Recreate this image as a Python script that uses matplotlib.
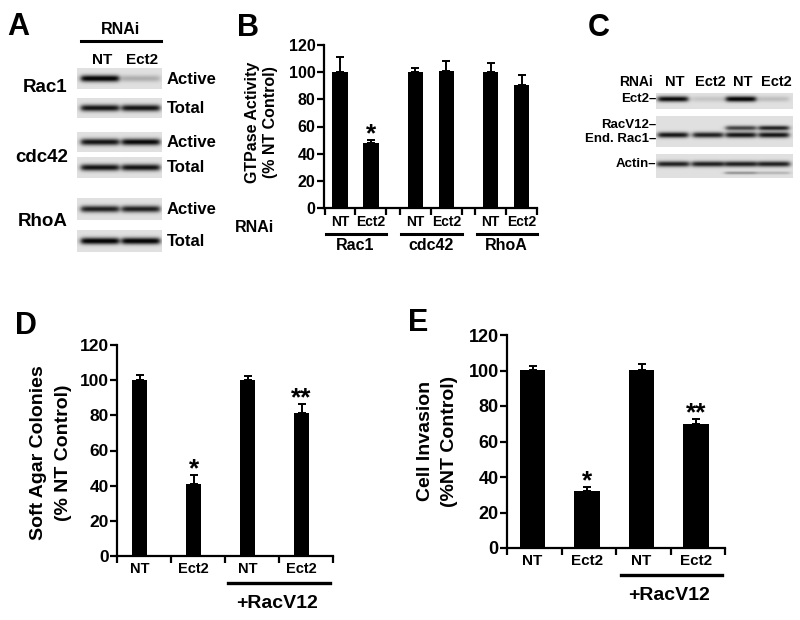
import numpy as np
import matplotlib
matplotlib.use("Agg")
import matplotlib.pyplot as plt
from matplotlib.transforms import blended_transform_factory

plt.rcParams['font.family'] = ['Liberation Sans', 'DejaVu Sans']
plt.rcParams['font.weight'] = 'bold'

W, H = 800, 620

#####################################
# Data
#####################################

# panel B: GTPase activity
b_groups = ["Rac1", "cdc42", "RhoA"]
b_lanes = ["NT", "Ect2"]
b_values = [100, 48, 100, 101, 100, 90.5]
b_errors = [11, 2, 3, 7, 7, 7.5]
b_stars = ["", "*", "", "", "", ""]

# panel D: soft agar colonies
d_labels = ["NT", "Ect2", "NT", "Ect2"]
d_values = [100, 41, 100, 81.5]
d_errors = [3, 5, 2.5, 5]
d_stars = ["", "*", "", "**"]

# panel E: cell invasion
e_labels = ["NT", "Ect2", "NT", "Ect2"]
e_values = [100.3, 32, 100.5, 70]
e_errors = [2, 2.2, 3, 2.6]
e_stars = ["", "*", "", "**"]

# panel A blot band intensities, lanes [NT, Ect2]
a_proteins = ["Rac1", "cdc42", "RhoA"]
a_active = [[1.0, 0.22], [0.9, 0.95], [0.85, 0.85]]
a_total = [[0.9, 0.9], [0.9, 0.9], [1.0, 1.0]]

# panel C blot band intensities, lanes NT, Ect2, NT, Ect2
c_lanes = ["NT", "Ect2", "NT", "Ect2"]
c_ect2 = [0.95, 0.12, 1.0, 0.15]
c_racv12 = [0.0, 0.0, 0.7, 0.85]
c_endrac1 = [0.9, 0.85, 0.9, 0.9]
c_actin = [0.85, 0.85, 0.85, 0.85]
c_actin_low = [0.0, 0.0, 0.35, 0.2]

#####################################
# Helpers
#####################################

fig = plt.figure(figsize=(W / 100, H / 100), dpi=100)
ov = fig.add_axes([0, 0, 1, 1])
ov.axis('off')


def px_axes(l, t, r, b):
    return fig.add_axes([l / W, 1 - b / H, (r - l) / W, (b - t) / H])


def blot(x0, x1, y0, y1, lane_x, half_w, bands):
    # bands: (y centre, thickness, per-lane intensities)
    xs = np.linspace(x0, x1, int((x1 - x0) * 4))
    ys = np.linspace(y0, y1, int((y1 - y0) * 4))
    img = np.full((len(ys), len(xs)), 0.88)
    for yc, sig, amps in bands:
        gy = np.exp(-0.5 * ((ys - yc) / sig) ** 2)
        for xc, a in zip(lane_x, amps):
            gx = 1 / (1 + np.exp((np.abs(xs - xc) - half_w) / 1.5))
            img -= a * 0.9 * np.outer(gy, gx)
    img = np.clip(img, 0.03, 1)
    ov.imshow(img, cmap='gray', vmin=0, vmax=1, extent=(x0, x1, y1, y0),
              aspect='auto', interpolation='bilinear')


def style(ax, fs):
    for s in ['top', 'right']:
        ax.spines[s].set_visible(False)
    for s in ['left', 'bottom']:
        ax.spines[s].set_linewidth(1.6)
    ax.set_facecolor('none')
    ax.set_ylim(0, 120)
    ax.set_yticks(range(0, 121, 20))
    ax.tick_params(axis='y', direction='out', length=5, width=1.6, labelsize=fs, pad=1)
    ax.tick_params(axis='x', which='major', direction='out', length=5, width=1.6)
    ax.tick_params(axis='x', which='minor', length=0, pad=3)


def bars(ax, x, vals, errs, width, stars, star_off):
    ax.bar(x, vals, width, color='black', zorder=2)
    ax.errorbar(x, vals, yerr=[np.zeros(len(vals)), errs], fmt='none', ecolor='black',
                elinewidth=1.4, capsize=3, capthick=1.4, zorder=3)
    for xi, v, e, s in zip(x, vals, errs, stars):
        if s:
            ax.annotate(s, (xi, v + e), xytext=(0, star_off), textcoords='offset points',
                        ha='center', va='baseline', fontsize=19)


def ytxt(ax, b, t, ypx):
    return (b - ypx) / (b - t)


#####################################
# Panel A
#####################################

ov.text(7, 27, "A", fontsize=22, va='center', ha='left')
ov.text(120, 30, "RNAi", fontsize=11.5, ha='center', va='center')
ov.plot([81, 161], [41, 41], color='black', lw=2.2)
ov.text(102, 60, "NT", fontsize=11, ha='center', va='center')
ov.text(142, 60, "Ect2", fontsize=11, ha='center', va='center')

a_rows = [(68, 89), (98, 118), (132, 152), (157, 178), (198, 220), (230, 252)]
a_name_y = [88, 157, 222]
a_name_x = [23, 15, 18]
a_lane_x = [100, 141]
for i, prot in enumerate(a_proteins):
    for j, (kind, amps) in enumerate([("Active", a_active[i]), ("Total", a_total[i])]):
        y0, y1 = a_rows[2 * i + j]
        yc = (y0 + y1) / 2
        blot(77, 162, y0, y1, a_lane_x, 19, [(yc, 2.4, amps)])
        ov.text(167, yc + 0.5, kind, fontsize=12, ha='left', va='center')
    ov.text(a_name_x[i], a_name_y[i], prot, fontsize=13.5, ha='left', va='center')

#####################################
# Panel C
#####################################

ov.text(588, 28, "C", fontsize=22, va='center', ha='left')
ov.text(653, 82, "RNAi", fontsize=10, ha='right', va='center')
c_lane_x = [673, 708, 741, 774]
for xc, lab in zip(c_lane_x, c_lanes):
    ov.text(xc + 2, 82, lab, fontsize=10.5, ha='center', va='center')
blot(656, 793, 93, 109, c_lane_x, 15, [(99, 2.0, c_ect2)])
blot(656, 793, 116, 147, c_lane_x, 15, [(128, 1.7, c_racv12), (135, 2.0, c_endrac1)])
blot(656, 793, 154, 178, c_lane_x, 16, [(164, 2.0, c_actin), (173, 1.0, c_actin_low)])
for lab, yc in [("Ect2\u2013", 99), ("RacV12\u2013", 125.5), ("End. Rac1\u2013", 138.5),
                ("Actin\u2013", 164)]:
    ov.text(656, yc, lab, fontsize=9.5, ha='right', va='center')

#####################################
# Panel B
#####################################

ov.text(237, 28, "B", fontsize=22, va='center', ha='left')
bl, bt, br, bb = 324, 45, 537, 208
axb = px_axes(bl, bt, br, bb)
style(axb, 11.5)
gap = 2.44
b_pos = [g * gap + k for g in range(len(b_groups)) for k in range(len(b_lanes))]
b_bounds = [g * gap + o for g in range(len(b_groups)) for o in (-0.5, 0.5, 1.5)]
bars(axb, b_pos, b_values, b_errors, 0.5, b_stars, -1)
axb.set_xlim(-0.52, (len(b_groups) - 1) * gap + 1.5)
axb.set_xticks(b_bounds, [""] * len(b_bounds))
axb.set_xticks(b_pos, b_lanes * len(b_groups), minor=True)
axb.tick_params(axis='x', which='minor', labelsize=10, pad=5)
trb = blended_transform_factory(axb.transData, axb.transAxes)
for g, name in enumerate(b_groups):
    axb.plot([g * gap - 0.45, g * gap + 1.5], [ytxt(axb, bb, bt, 233.5)] * 2, color='black',
             lw=2.2, transform=trb, clip_on=False)
    axb.text(g * gap + 0.5, ytxt(axb, bb, bt, 246), name, transform=trb, ha='center',
             va='center', fontsize=11.5)
ov.text(255, 227, "RNAi", fontsize=11.5, ha='center', va='center')
ov.text(253, 122, "GTPase Activity", fontsize=11.5, rotation=90, ha='center', va='center')
ov.text(270, 122, "(% NT Control)", fontsize=11.5, rotation=90, ha='center', va='center')

#####################################
# Panels D and E
#####################################


def bottom_panel(letter, lx, ly, box, vals, errs, labels, stars, width, x0, line_px, rac_px,
                 ylines, fs):
    l, t, r, b = box
    ov.text(lx, ly, letter, fontsize=22, va='center', ha='left')
    ax = px_axes(l, t, r, b)
    style(ax, fs)
    pos = list(range(len(vals)))
    bars(ax, pos, vals, errs, width, stars, -1)
    ax.set_xlim(x0, x0 + len(vals))
    ax.set_xticks([x0 + k for k in range(len(vals) + 1)], [""] * (len(vals) + 1))
    ax.set_xticks(pos, labels, minor=True)
    ax.tick_params(axis='x', which='minor', labelsize=fs - 2, pad=4)
    tr = blended_transform_factory(ax.transData, ax.transAxes)
    ax.plot([line_px[0], line_px[1]], [ytxt(ax, b, t, line_px[2])] * 2, color='black', lw=2.4,
            transform=tr, clip_on=False)
    ax.text(rac_px[0], ytxt(ax, b, t, rac_px[1]), "+RacV12", transform=tr, ha='center',
            va='center', fontsize=14)
    for (xt, yt, s) in ylines:
        ov.text(xt, yt, s, fontsize=14, rotation=90, ha='center', va='center')
    return ax


bottom_panel("D", 15, 326, (117, 345, 333, 556), d_values, d_errors, d_labels, d_stars,
             0.28, -0.42, (1.64, 3.53, 583), (2.55, 603),
             [(39, 453, "Soft Agar Colonies"), (63, 453, "(% NT Control)")], 12.5)
bottom_panel("E", 408, 323, (507, 335, 725, 548), e_values, e_errors, e_labels, e_stars,
             0.47, -0.47, (1.62, 3.47, 575), (2.51, 596),
             [(426, 441, "Cell Invasion"), (450, 441, "(%NT Control)")], 13)

ov.set_xlim(0, W)
ov.set_ylim(H, 0)

fig.savefig("out.png", dpi=100)
